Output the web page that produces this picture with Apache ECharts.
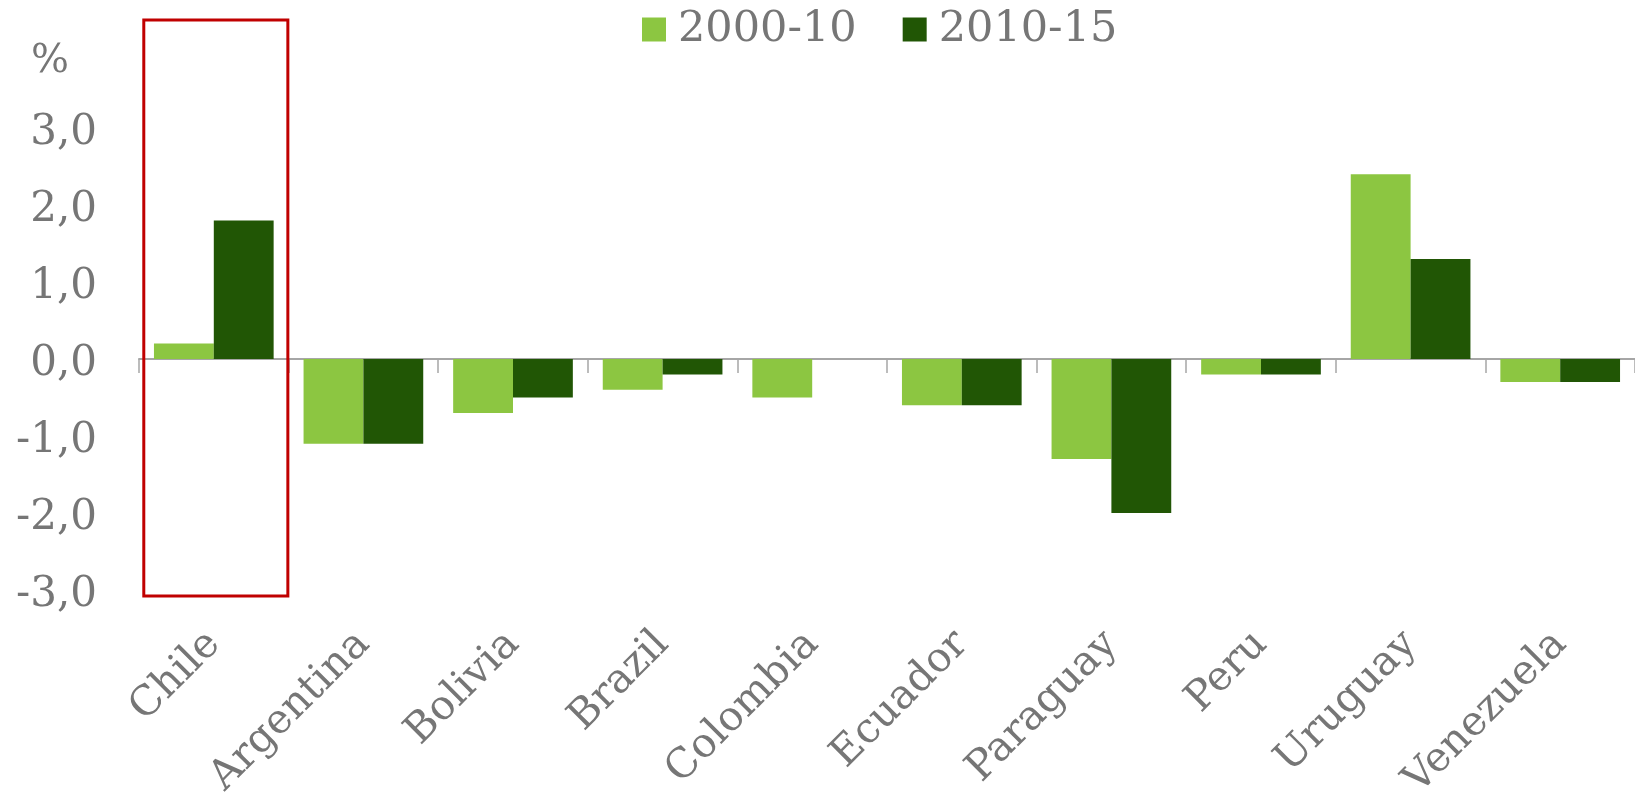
<!DOCTYPE html>
<html>
<head>
<meta charset="utf-8">
<script src="https://cdn.jsdelivr.net/npm/echarts@6/dist/echarts.min.js"></script>
<style>html,body{margin:0;padding:0;background:#fff}#c{width:1635px;height:803px}</style>
</head>
<body>
<div id="c"></div>
<script>
const categories = ['Chile','Argentina','Bolivia','Brazil','Colombia','Ecuador','Paraguay','Peru','Uruguay','Venezuela'];
const seriesNames = ['2000-10','2010-15'];
const values2000_10 = [0.2, -1.1, -0.7, -0.4, -0.5, -0.6, -1.3, -0.2, 2.4, -0.3];
const values2010_15 = [1.8, -1.1, -0.5, -0.2, 0, -0.6, -2.0, -0.2, 1.3, -0.3];
const highlighted = 'Chile';

const FONT = 'DejaVu Serif';
const GREY = '#767676';
const chart = echarts.init(document.getElementById('c'));
chart.setOption({
  animation: false,
  backgroundColor: '#fff',
  grid: {left: 139, right: 0, top: 51, bottom: 213, outerBoundsMode: 'none', containLabel: false},
  legend: {
    top: 3, left: 637, itemWidth: 24, itemHeight: 24, itemGap: 46,
    icon: 'rect',
    textStyle: {fontFamily: FONT, fontSize: 43, color: GREY, padding: [0,0,0,7]},
    data: seriesNames
  },
  xAxis: [{
    type: 'category', data: categories, position: 'bottom',
    axisLine: {show: false, onZero: false}, axisTick: {show: false},
    axisLabel: {rotate: 45, fontFamily: FONT, fontSize: 41, color: GREY, margin: 48, interval: 0}
  }, {
    type: 'category', data: categories, position: 'bottom',
    axisLine: {onZero: true, onZeroAxisIndex: 0, lineStyle: {color: '#a6a6a6', width: 2}},
    axisTick: {show: true, length: 14, lineStyle: {color: '#a6a6a6', width: 1.5}},
    axisLabel: {show: false}
  }],
  yAxis: {
    type: 'value', min: -3, max: 4, interval: 1,
    splitLine: {show: false}, axisLine: {show: false}, axisTick: {show: false},
    axisLabel: {
      fontFamily: FONT, fontSize: 42, color: GREY, margin: 42, padding: [10, 0, 0, 0],
      formatter: v => v === 4 ? '{p|%}' : v.toFixed(1).replace('.', ','),
      rich: {p: {fontFamily: FONT, fontSize: 40, color: GREY, padding: [12, 28, 0, 0]}}
    }
  },
  series: [{
    name: seriesNames[0], type: 'bar', data: values2000_10,
    barGap: '0%', barCategoryGap: '20%',
    itemStyle: {color: '#8cc641'}
  }, {
    name: seriesNames[1], type: 'bar', data: values2010_15,
    barGap: '0%', barCategoryGap: '20%',
    itemStyle: {color: '#215605'}
  }]
});

// red highlight box around the highlighted category, positioned from the axes
const idx = categories.indexOf(highlighted);
const cx = chart.convertToPixel({xAxisIndex: 0}, idx);
const cx2 = chart.convertToPixel({xAxisIndex: 0}, idx + 1);
const band = cx2 - cx;
const yBottom = chart.convertToPixel({yAxisIndex: 0}, -3);
const yTop = chart.convertToPixel({yAxisIndex: 0}, 4);
chart.setOption({
  graphic: [{
    type: 'rect', z: 100,
    shape: {x: cx - band * 0.468, y: yTop - 31, width: band * 0.963, height: (yBottom + 6) - (yTop - 31)},
    style: {fill: 'none', stroke: '#c00000', lineWidth: 3}
  }]
});
</script>
</body>
</html>
